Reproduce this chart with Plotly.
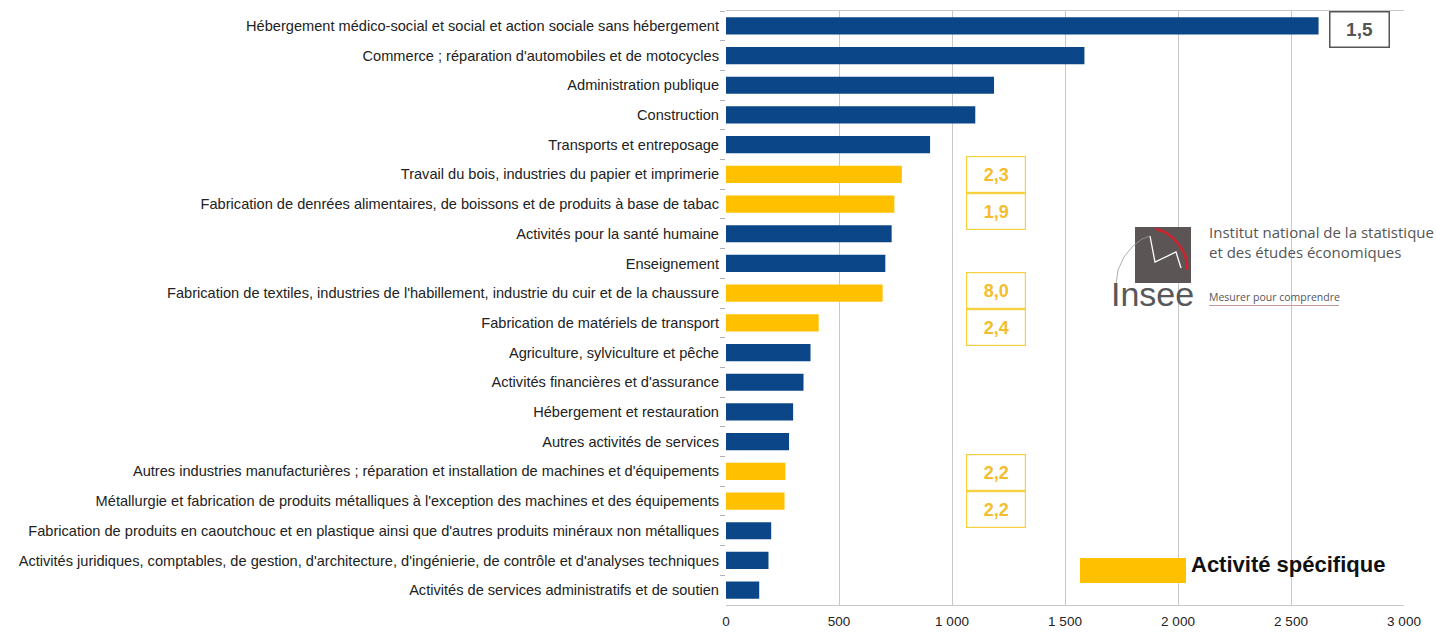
import plotly.graph_objects as go

categories = [
    "Hébergement médico-social et social et action sociale sans hébergement",
    "Commerce ; réparation d'automobiles et de motocycles",
    "Administration publique",
    "Construction",
    "Transports et entreposage",
    "Travail du bois, industries du papier et imprimerie",
    "Fabrication de denrées alimentaires, de boissons et de produits à base de tabac",
    "Activités pour la santé humaine",
    "Enseignement",
    "Fabrication de textiles, industries de l'habillement, industrie du cuir et de la chaussure",
    "Fabrication de matériels de transport",
    "Agriculture, sylviculture et pêche",
    "Activités financières et d'assurance",
    "Hébergement et restauration",
    "Autres activités de services",
    "Autres industries manufacturières ; réparation et installation de machines et d'équipements",
    "Métallurgie et fabrication de produits métalliques à l'exception des machines et des équipements",
    "Fabrication de produits en caoutchouc et en plastique ainsi que d'autres produits minéraux non métalliques",
    "Activités juridiques, comptables, de gestion, d'architecture, d'ingénierie, de contrôle et d'analyses techniques",
    "Activités de services administratifs et de soutien",
]
values = [2622, 1586, 1186, 1103, 903, 778, 745, 733, 705, 693,
          410, 374, 343, 297, 279, 263, 259, 200, 188, 147]
specific = [False, False, False, False, False, True, True, False, False, True,
            True, False, False, False, False, True, True, False, False, False]
# ratio labels: (category index, text)
ratio_labels = [(0, "1,5"), (5, "2,3"), (6, "1,9"), (9, "8,0"), (10, "2,4"), (15, "2,2"), (16, "2,2")]
tick_vals = [0, 500, 1000, 1500, 2000, 2500, 3000]
tick_text = ["0", "500", "1 000", "1 500", "2 000", "2 500", "3 000"]
legend_label = "Activité spécifique"

BLUE = "#0b4689"
YELLOW = "#ffc000"
colors = [YELLOW if s else BLUE for s in specific]

W, H = 1436, 632
ML, MR, MT, MB = 726, 32, 11, 27
PW, PH = W - ML - MR, H - MT - MB


def px(x):
    return (x - ML) / PW


def py(y):
    return (H - MB - y) / PH


fig = go.Figure()
fig.add_trace(go.Bar(
    x=values, y=categories, orientation="h",
    marker=dict(color=colors, line=dict(width=0)),
    showlegend=False, hoverinfo="x+y",
))

annotations = []
shapes = []

# ratio boxes
yshifts = {0: -3.5, 5: 0, 6: -7, 9: 2.5, 10: -4.5, 15: -1.5, 16: -8.5}
for idx, txt in ratio_labels:
    if idx == 0:
        annotations.append(dict(
            x=2805, y=categories[idx], xref="x", yref="y", text="<b>" + txt + "</b>", showarrow=False,
            font=dict(family="Liberation Sans", size=19, color="#555555"),
            bordercolor="#555555", borderwidth=1.5, borderpad=0, width=58, height=34,
            bgcolor="white", yshift=yshifts[idx],
        ))
    else:
        annotations.append(dict(
            x=1195, y=categories[idx], xref="x", yref="y", text="<b>" + txt + "</b>", showarrow=False,
            font=dict(family="Liberation Sans", size=18, color="#f4bd2e"),
            bordercolor="#f6d040", borderwidth=1.2, borderpad=0, width=58, height=35,
            bgcolor="white", yshift=yshifts[idx],
        ))

# legend
shapes.append(dict(type="rect", xref="paper", yref="paper",
                   x0=px(1080), x1=px(1186), y0=py(583), y1=py(558),
                   fillcolor=YELLOW, line=dict(width=0)))
annotations.append(dict(x=px(1189), y=py(564), xref="paper", yref="paper",
                        text="<b>" + legend_label + "</b>", showarrow=False,
                        xanchor="left", yanchor="middle",
                        font=dict(family="Liberation Sans", size=22, color="#111111")))

# Insee logo
shapes.append(dict(type="rect", xref="paper", yref="paper",
                   x0=px(1135), x1=px(1191), y0=py(283), y1=py(227),
                   fillcolor="#5b5655", line=dict(width=0), layer="above"))


def path(points):
    return "M " + " L ".join(f"{px(a):.5f},{py(b):.5f}" for a, b in points)


shapes.append(dict(type="path", xref="paper", yref="paper",
                   path=path([(1156, 229), (1165, 232), (1173, 238), (1180, 246), (1185, 255), (1187, 263), (1187, 270)]),
                   line=dict(color="#d0202e", width=2.5), layer="above"))
shapes.append(dict(type="path", xref="paper", yref="paper",
                   path=path([(1150, 236), (1155, 262), (1176, 252), (1181, 268)]),
                   line=dict(color="white", width=1.3), layer="above"))
shapes.append(dict(type="path", xref="paper", yref="paper",
                   path=path([(1116, 285), (1118, 270), (1124, 257), (1133, 246), (1142, 239), (1150, 236)]),
                   line=dict(color="#9a9a9a", width=0.8), layer="above"))
annotations.append(dict(x=px(1152), y=py(294), xref="paper", yref="paper", text="Insee",
                        showarrow=False, xanchor="center", yanchor="middle",
                        font=dict(family="Liberation Sans", size=34, color="#58585a")))
annotations.append(dict(x=px(1207), y=py(232), xref="paper", yref="paper",
                        text="Institut national de la statistique", showarrow=False,
                        xanchor="left", yanchor="middle",
                        font=dict(family="Open Sans", size=15, color="#555555")))
annotations.append(dict(x=px(1207), y=py(252), xref="paper", yref="paper",
                        text="et des études économiques", showarrow=False,
                        xanchor="left", yanchor="middle",
                        font=dict(family="Open Sans", size=15, color="#555555")))
annotations.append(dict(x=px(1207), y=py(297), xref="paper", yref="paper",
                        text="Mesurer pour comprendre", showarrow=False,
                        xanchor="left", yanchor="middle",
                        font=dict(family="Open Sans", size=10.5, color="#555555")))
shapes.append(dict(type="line", xref="paper", yref="paper",
                   x0=px(1209), x1=px(1339), y0=py(305.5), y1=py(305.5),
                   line=dict(color="#c99a9a", width=1), layer="above"))

fig.update_layout(
    width=W, height=H,
    margin=dict(l=ML, r=MR, t=MT, b=MB, pad=0, autoexpand=False),
    paper_bgcolor="white", plot_bgcolor="white",
    bargap=0.42,
    font=dict(family="Liberation Sans", size=13, color="#222222"),
    xaxis=dict(range=[0, 3000], tickvals=tick_vals, ticktext=tick_text,
               showgrid=True, gridcolor="#c8c8c8", gridwidth=1,
               showline=True, linecolor="#c8c8c8", mirror=True,
               ticks="outside", ticklen=4, tickcolor="rgba(0,0,0,0)", zeroline=False,
               automargin=False,
               tickfont=dict(size=13.5, color="#222222")),
    yaxis=dict(range=[len(categories) - 0.5, -0.5], showgrid=False,
               showline=False,
               ticks="outside", ticklen=5, tickcolor="#b0b0b0", tickson="boundaries",
               ticklabelstandoff=6, automargin=False,
               tickfont=dict(size=14.6, color="#222222")),
    shapes=shapes, annotations=annotations,
)

fig.write_html("out.html", config={"displayModeBar": False},
               post_script="document.body.style.margin='0';")
